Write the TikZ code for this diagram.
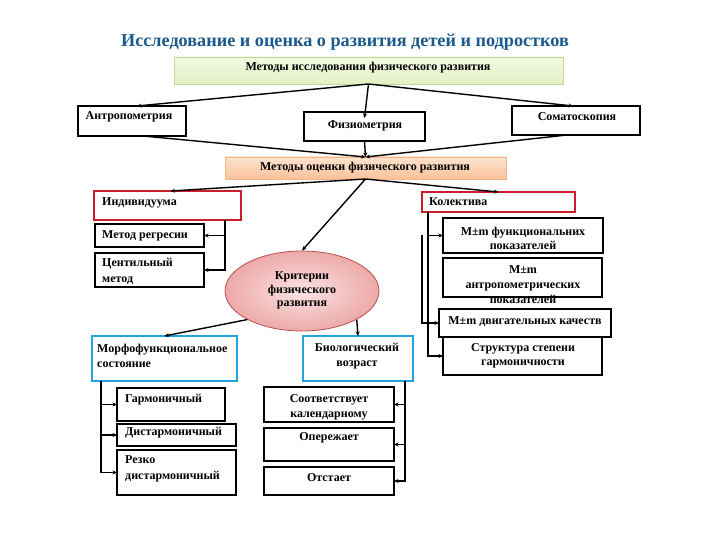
\documentclass[tikz,border=0pt]{standalone}
\usepackage{fontspec}
\setmainfont{Liberation Serif}
\usetikzlibrary{arrows.meta,shapes.geometric,calc}
\definecolor{ttlc}{HTML}{1B5A8C}
\definecolor{redb}{HTML}{CC1E28}
\definecolor{blueb}{HTML}{22A4DE}
\definecolor{grtop}{HTML}{F3F9E2}
\definecolor{grbot}{HTML}{E2F0C4}
\definecolor{grbd}{HTML}{C3D79C}
\definecolor{ortop}{HTML}{FDE3CF}
\definecolor{orbot}{HTML}{F8C29A}
\definecolor{orbd}{HTML}{F1B68C}
\definecolor{pkin}{HTML}{FBE3E3}
\definecolor{pkout}{HTML}{EDA9A9}
\definecolor{pkbd}{HTML}{B85050}
\newcommand\mybox[6][]{%
  \pgfmathsetmacro\bw{#5-#3}\pgfmathsetmacro\bh{#6-#4}%
  \pgfmathsetmacro\bcx{(#3+#5)/2}\pgfmathsetmacro\bcy{(#4+#6)/2}%
  \node[#1,minimum width=\bw pt,minimum height=\bh pt] (#2) at (\bcx,\bcy) {};}
\begin{document}
\begin{tikzpicture}[x=1pt,y=-1pt,
  base/.style={rectangle,inner sep=0pt,outer sep=0pt},
  blk/.style={base,draw=black,line width=2.2pt,fill=white},
  redbx/.style={base,draw=redb,line width=2.8pt,fill=white},
  bluebx/.style={base,draw=blueb,line width=2.8pt,fill=white},
  grbx/.style={base,draw=grbd,line width=0.8pt,top color=grtop,bottom color=grbot},
  orbx/.style={base,draw=orbd,line width=0.6pt,top color=ortop,bottom color=orbot},
  txt/.style={inner sep=0pt,font=\fontsize{12}{15}\selectfont\bfseries},
  arr/.style={line width=1.4pt,-{Stealth[length=4.5pt,width=4pt]}},
]
\useasboundingbox (0,0) rectangle (720,540);
% title
\node[inner sep=0pt,text=ttlc,font=\fontsize{18.2}{20}\selectfont\bfseries] (title) at (345,42)
  {Исследование и оценка о развития детей и подростков};
% boxes
\mybox[grbx]{grn}{174}{57}{563}{84}
\mybox[blk]{ant}{78}{106}{186}{136}
\mybox[blk]{fiz}{304}{112}{425}{141}
\mybox[blk]{som}{512}{106}{640}{135}
\mybox[orbx]{orn}{225}{157}{506}{179}
\mybox[redbx]{ind}{94}{191}{241}{220}
\mybox[redbx]{kol}{422}{192}{575}{212}
\mybox[blk]{reg}{95}{224}{204}{247}
\mybox[blk]{cen}{95}{253}{204}{287}
\node[ellipse,draw=pkbd,line width=0.8pt,inner color=pkin,outer color=pkout,
  minimum width=154pt,minimum height=80pt,inner sep=0pt] (crit) at (302,291) {};
\mybox[blk]{fun}{443}{218}{603}{253}
\mybox[blk]{atr}{443}{258}{602}{297}
\mybox[blk]{dvi}{439}{309}{611}{337}
\mybox[blk]{str}{443}{337}{602}{375}
\mybox[bluebx]{mor}{92}{336}{237}{381}
\mybox[bluebx]{bio}{303}{336}{413}{381}
\mybox[blk]{gar}{117}{388}{225}{421}
\mybox[blk]{dis}{117}{424}{236}{446}
\mybox[blk]{rez}{117}{450}{236}{495}
\mybox[blk]{soo}{264}{387}{394}{422}
\mybox[blk]{ope}{264}{428}{394}{461}
\mybox[blk]{ots}{264}{467}{394}{495}
% texts
\node[txt] (tgrn) at (368,68) {Методы исследования физического развития};
\node[txt] (tant) at (129,117) {Антропометрия};
\node[txt] (tfiz) at (365,126) {Физиометрия};
\node[txt] (tsom) at (577,117) {Соматоскопия};
\node[txt] (torn) at (365,168) {Методы оценки физического развития};
\node[txt,anchor=west] (tind) at (102,203) {Индивидуума};
\node[txt,anchor=west] (tkol) at (429,202) {Колектива};
\node[txt,anchor=west] (treg) at (102,236) {Метод регресии};
\node[txt,anchor=west,align=left,font=\fontsize{12}{16.5}\selectfont\bfseries] (tcen) at (102,271.5) {Центильный\\метод};
\node[txt,align=center,font=\fontsize{12}{13.5}\selectfont\bfseries] (tcrit) at (302,290.5) {Критерии\\физического\\развития};
\node[txt,align=center,font=\fontsize{12}{14}\selectfont\bfseries] (tfun) at (523,238) {M±m функциональних\\показателей};
\node[txt,align=center] (tatr) at (523,285) {M±m\\антропометрических\\показателей};
\node[txt] (tdvi) at (525,322) {M±m двигательных качеств};
\node[txt,align=center,font=\fontsize{12}{14}\selectfont\bfseries] (tstr) at (523,356) {Структура степени\\гармоничности};
\node[txt,anchor=west,align=left] (tmor) at (97,356) {Морфофункциональное\\состояние};
\node[txt,align=center] (tbio) at (357,356) {Биологический\\возраст};
\node[txt,anchor=west] (tgar) at (125,400) {Гармоничный};
\node[txt,anchor=west] (tdis) at (125,433) {Дистармоничный};
\node[txt,anchor=west,align=left,font=\fontsize{12}{16}\selectfont\bfseries] (trez) at (125,469) {Резко\\дистармоничный};
\node[txt,align=center] (tsoo) at (329,407.5) {Соответствует\\календарному};
\node[txt] (tope) at (329,438) {Опережает};
\node[txt] (tots) at (329,478) {Отстает};
% connectors
\draw[arr] (grn.south) -- ([xshift=5pt]ant.north);
\draw[arr] (grn.south) -- ([yshift=-6pt]fiz.north);
\draw[arr] (grn.south) -- ([xshift=-3pt]som.north);
\draw[arr] ([xshift=11pt]ant.south) -- (orn.north);
\draw[arr] (fiz.south) -- (orn.north);
\draw[arr] ([xshift=-9pt]som.south) -- (orn.north);
\draw[arr] (orn.south) -- ([xshift=3pt]ind.north);
\draw[arr] (orn.south) -- (kol.north);
\draw[arr] (orn.south) -- (crit.north);
\draw[arr] ([xshift=-16pt]ind.south east) |- (reg.east);
\draw[arr] ([xshift=-16pt]ind.south east) |- (cen.east);
\draw[arr] ([xshift=6pt]kol.south west) |- (fun.west);
\draw[arr] ([xshift=6pt]kol.south west) |- (str.west);
\coordinate (kfree) at (422,235);
\draw[arr] (kfree) |- (dvi.west);
\draw[arr] (crit.south west) -- (mor.north);
\draw[arr] (crit.south east) -- (bio.north);
\draw[arr] ([xshift=9pt]mor.south west) |- (gar.west);
\draw[arr] ([xshift=9pt]mor.south west) |- (dis.west);
\draw[arr] ([xshift=9pt]mor.south west) |- (rez.west);
\draw[arr] ([xshift=-8pt]bio.south east) |- (soo.east);
\draw[arr] ([xshift=-8pt]bio.south east) |- (ope.east);
\draw[arr] ([xshift=-8pt]bio.south east) |- (ots.east);
\end{tikzpicture}
\end{document}
